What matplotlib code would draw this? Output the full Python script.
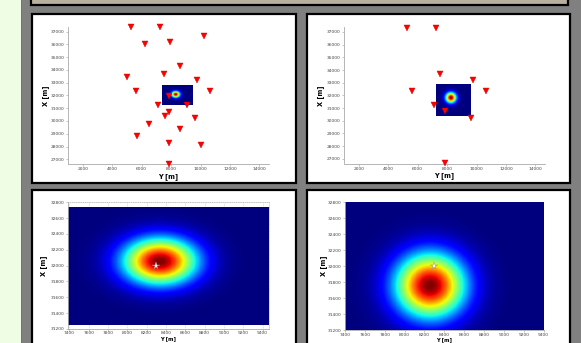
import numpy as np
import matplotlib
matplotlib.use("Agg")
import matplotlib.pyplot as plt
from matplotlib.patches import Rectangle

W, H = 581, 343

# station positions (Y = east, X = north) [m]
station_y = [5295, 7220, 10245, 6203, 7939, 8617, 4983, 7512, 9749, 5634, 10610, 7871,
             7105, 9071, 7871, 7600, 9613, 6495, 8617, 5702, 7871, 10020, 7871]
station_x = [37345, 37345, 36686, 36012, 36193, 34335, 33473, 33685, 33191, 32329, 32376, 31960,
             31279, 31255, 30730, 30370, 30213, 29743, 29351, 28826, 28254, 28097, 26632]
# stations that remain in the top-right map (indices into the lists above)
subset = [0, 1, 7, 8, 9, 10, 12, 14, 16, 22]

# true source position (white star)
star_y, star_x = 8300, 32000

# location likelihood peaks: (centre Y, centre X, sigma Y, sigma X)
peak_left = (8340, 32050, 260, 200)
peak_left_small = (8310, 32040, 190, 160)
peak_right = (8255, 31755, 240, 275)

big_xticks = [2000, 4000, 6000, 8000, 10000, 12000, 14000]
big_yticks = [27000, 28000, 29000, 30000, 31000, 32000, 33000, 34000, 35000, 36000, 37000]
zoom_xticks = [7400, 7600, 7800, 8000, 8200, 8400, 8600, 8800, 9000, 9200, 9400]
zoom_yticks = [31200, 31400, 31600, 31800, 32000, 32200, 32400, 32600, 32800]


def field(extent, peak, n=160):
    yy = np.linspace(extent[0], extent[1], n)
    xx = np.linspace(extent[2], extent[3], n)
    gy, gx = np.meshgrid(yy, xx)
    cy, cx, sy, sx = peak
    return np.exp(-0.5 * (((gy - cy) / sy) ** 2 + ((gx - cx) / sx) ** 2))


def add_ax(l, r, t, b):
    return fig.add_axes([l / W, 1 - b / H, (r - l) / W, (b - t) / H])


def style(ax, xticks, yticks, xlim, ylim):
    ax.set_xlim(*xlim)
    ax.set_ylim(*ylim)
    ax.set_xticks(xticks)
    ax.set_yticks(yticks)
    ax.set_xticklabels([str(v) for v in xticks])
    ax.set_yticklabels([str(v) for v in yticks])
    ax.tick_params(labelsize=3.2, length=1.5, width=0.4, pad=1, colors="#999999", labelcolor="#444444")
    for s in ["left", "bottom"]:
        ax.spines[s].set_color("#aaaaaa")
        ax.spines[s].set_linewidth(0.6)
    for s in ["top", "right"]:
        ax.spines[s].set_visible(False)
    ax.set_facecolor("white")


fig = plt.figure(figsize=(W / 100, H / 100), dpi=100)
fig.patch.set_facecolor("#eefde4")

# background drawing in pixel coordinates
bg = fig.add_axes([0, 0, 1, 1])
bg.set_xlim(0, W)
bg.set_ylim(H, 0)
bg.axis("off")
bg.add_patch(Rectangle((21, -2), 565, H + 4, facecolor="#808080", edgecolor="#666666", lw=0.6))
bg.add_patch(Rectangle((31, -6), 537, 11, facecolor="#b9b19f", edgecolor="black", lw=1.6))
for (x0, y0, w, h) in [(32, 14, 264, 169), (307, 14, 263, 169), (32, 190, 264, 160), (307, 190, 263, 160)]:
    bg.add_patch(Rectangle((x0, y0), w, h, facecolor="white", edgecolor="black", lw=1.6))

inset_left = (7390, 9470, 31245, 32735)
inset_right = (7270, 9580, 30340, 32800)

# top-left: all stations with small likelihood map
ax1 = add_ax(68, 269, 26.7, 164)
style(ax1, big_xticks, big_yticks, (1000, 14650), (26630, 37390))
ax1.imshow(field(inset_left, peak_left_small), extent=inset_left, origin="lower", cmap="jet",
           vmin=0, vmax=1, aspect="auto", zorder=2)
ax1.plot(station_y, station_x, "v", color="red", mec="#cc0000", ms=4.4, mew=0.3, zorder=3, clip_on=False)
ax1.set_xlabel("Y [m]", fontsize=4.8, fontweight="bold")
ax1.set_ylabel("X [m]", fontsize=4.8, fontweight="bold")
ax1.xaxis.set_label_coords(0.5, -0.065)
ax1.yaxis.set_label_coords(-0.095, 0.5)

# top-right: reduced network
ax2 = add_ax(344, 545, 27, 163.5)
style(ax2, big_xticks, big_yticks, (1000, 14650), (26630, 37390))
ax2.imshow(field(inset_right, peak_right), extent=inset_right, origin="lower", cmap="jet",
           vmin=0, vmax=1, aspect="auto", zorder=2)
ax2.plot([station_y[i] for i in subset], [station_x[i] for i in subset], "v", color="red",
         mec="#cc0000", ms=4.4, mew=0.3, zorder=3, clip_on=False)
ax2.set_xlabel("Y [m]", fontsize=4.8, fontweight="bold")
ax2.set_ylabel("X [m]", fontsize=4.8, fontweight="bold")
ax2.xaxis.set_label_coords(0.5, -0.065)
ax2.yaxis.set_label_coords(-0.1, 0.5)

# bottom-left: zoom of the likelihood, all stations
ax3 = add_ax(67.7, 269.3, 202.3, 329)
style(ax3, zoom_xticks, zoom_yticks, (7383, 9468), (31200, 32800))
ax3.tick_params(axis="x", length=1.2, pad=0.6)
ax3.grid(True, linestyle=":", color="#bbbbbb", lw=0.5, zorder=0)
ax3.set_axisbelow(True)
for s in ["top", "right"]:
    ax3.spines[s].set_visible(True)
    ax3.spines[s].set_linestyle(":")
    ax3.spines[s].set_color("#bbbbbb")
    ax3.spines[s].set_linewidth(0.5)
ax3.imshow(field(inset_left, peak_left), extent=inset_left, origin="lower", cmap="jet",
           vmin=0, vmax=1, aspect="auto", zorder=2)
ax3.plot(star_y, star_x, "*", color="white", mec="#888888", ms=5.5, mew=0.3, zorder=3)
ax3.set_xlabel("Y [m]", fontsize=3.8, fontweight="bold", va="top")
ax3.set_ylabel("X [m]", fontsize=4.8, fontweight="bold")
ax3.xaxis.set_label_coords(0.5, -0.057)
ax3.yaxis.set_label_coords(-0.103, 0.5)

# bottom-right: zoom of the likelihood, reduced network
ax4 = add_ax(345, 543.7, 202.3, 330)
style(ax4, zoom_xticks, zoom_yticks, (7400, 9400), (31200, 32800))
ax4.tick_params(axis="x", length=1.2, pad=0.6)
ext4 = (7400, 9400, 31200, 32800)
ax4.imshow(field(ext4, peak_right), extent=ext4, origin="lower", cmap="jet",
           vmin=0, vmax=1, aspect="auto", zorder=2)
ax4.plot(star_y, star_x, "*", color="white", mec="#888888", ms=5.5, mew=0.3, zorder=3)
ax4.set_xlabel("Y [m]", fontsize=3.8, fontweight="bold", va="top")
ax4.set_ylabel("X [m]", fontsize=4.8, fontweight="bold")
ax4.xaxis.set_label_coords(0.5, -0.057)
ax4.yaxis.set_label_coords(-0.092, 0.5)

plt.savefig("out.png", dpi=100)
